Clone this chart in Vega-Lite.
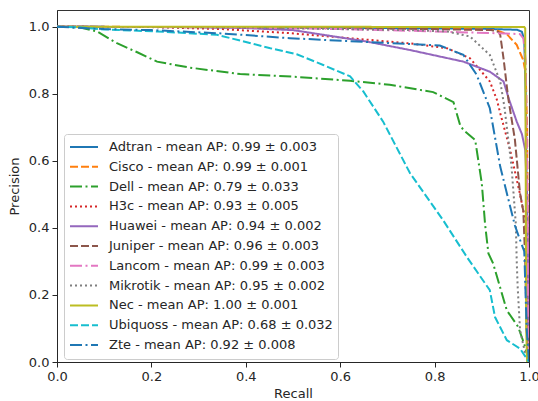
{
  "$schema": "https://vega.github.io/schema/vega-lite/v6.json",
  "width": 472,
  "height": 352,
  "autosize": {"type": "none"},
  "padding": {"left": 57, "top": 10, "right": 9, "bottom": 39},
  "background": "white",
  "config": {
    "font": "DejaVu Sans",
    "view": {"stroke": "#333333", "strokeWidth": 1},
    "axis": {
      "domainColor": "#262626", "tickColor": "#262626", "labelColor": "#262626", "titleColor": "#262626",
      "labelFontSize": 13, "titleFontSize": 13, "titleFontWeight": "normal", "tickSize": 5, "labelPadding": 3, "grid": false,
      "labelFont": "DejaVu Sans", "titleFont": "DejaVu Sans", "labelFlush": false
    }
  },
  "data": {"values": [
    {"series": "Adtran - mean AP: 0.99 ± 0.003", "recall": 0.0, "precision": 1.0},
    {"series": "Adtran - mean AP: 0.99 ± 0.003", "recall": 0.3, "precision": 0.999},
    {"series": "Adtran - mean AP: 0.99 ± 0.003", "recall": 0.6, "precision": 0.997},
    {"series": "Adtran - mean AP: 0.99 ± 0.003", "recall": 0.9, "precision": 0.994},
    {"series": "Adtran - mean AP: 0.99 ± 0.003", "recall": 0.975, "precision": 0.991},
    {"series": "Adtran - mean AP: 0.99 ± 0.003", "recall": 0.985, "precision": 0.985},
    {"series": "Adtran - mean AP: 0.99 ± 0.003", "recall": 0.99, "precision": 0.96},
    {"series": "Adtran - mean AP: 0.99 ± 0.003", "recall": 0.993, "precision": 0.8},
    {"series": "Adtran - mean AP: 0.99 ± 0.003", "recall": 0.995, "precision": 0.5},
    {"series": "Adtran - mean AP: 0.99 ± 0.003", "recall": 0.997, "precision": 0.2},
    {"series": "Adtran - mean AP: 0.99 ± 0.003", "recall": 1.0, "precision": 0.0},

    {"series": "Cisco - mean AP: 0.99 ± 0.001", "recall": 0.0, "precision": 1.0},
    {"series": "Cisco - mean AP: 0.99 ± 0.001", "recall": 0.4, "precision": 0.999},
    {"series": "Cisco - mean AP: 0.99 ± 0.001", "recall": 0.8, "precision": 0.997},
    {"series": "Cisco - mean AP: 0.99 ± 0.001", "recall": 0.93, "precision": 0.99},
    {"series": "Cisco - mean AP: 0.99 ± 0.001", "recall": 0.953, "precision": 0.978},
    {"series": "Cisco - mean AP: 0.99 ± 0.001", "recall": 0.974, "precision": 0.946},
    {"series": "Cisco - mean AP: 0.99 ± 0.001", "recall": 0.988, "precision": 0.9},
    {"series": "Cisco - mean AP: 0.99 ± 0.001", "recall": 0.993, "precision": 0.86},
    {"series": "Cisco - mean AP: 0.99 ± 0.001", "recall": 0.996, "precision": 0.7},
    {"series": "Cisco - mean AP: 0.99 ± 0.001", "recall": 0.998, "precision": 0.3},
    {"series": "Cisco - mean AP: 0.99 ± 0.001", "recall": 1.0, "precision": 0.0},

    {"series": "Dell - mean AP: 0.79 ± 0.033", "recall": 0.0, "precision": 1.0},
    {"series": "Dell - mean AP: 0.79 ± 0.033", "recall": 0.05, "precision": 0.998},
    {"series": "Dell - mean AP: 0.79 ± 0.033", "recall": 0.085, "precision": 0.986},
    {"series": "Dell - mean AP: 0.79 ± 0.033", "recall": 0.127, "precision": 0.951},
    {"series": "Dell - mean AP: 0.79 ± 0.033", "recall": 0.17, "precision": 0.924},
    {"series": "Dell - mean AP: 0.79 ± 0.033", "recall": 0.212, "precision": 0.896},
    {"series": "Dell - mean AP: 0.79 ± 0.033", "recall": 0.282, "precision": 0.878},
    {"series": "Dell - mean AP: 0.79 ± 0.033", "recall": 0.388, "precision": 0.859},
    {"series": "Dell - mean AP: 0.79 ± 0.033", "recall": 0.5, "precision": 0.851},
    {"series": "Dell - mean AP: 0.79 ± 0.033", "recall": 0.621, "precision": 0.839},
    {"series": "Dell - mean AP: 0.79 ± 0.033", "recall": 0.705, "precision": 0.827},
    {"series": "Dell - mean AP: 0.79 ± 0.033", "recall": 0.797, "precision": 0.805},
    {"series": "Dell - mean AP: 0.79 ± 0.033", "recall": 0.84, "precision": 0.775},
    {"series": "Dell - mean AP: 0.79 ± 0.033", "recall": 0.854, "precision": 0.707},
    {"series": "Dell - mean AP: 0.79 ± 0.033", "recall": 0.861, "precision": 0.692},
    {"series": "Dell - mean AP: 0.79 ± 0.033", "recall": 0.886, "precision": 0.662},
    {"series": "Dell - mean AP: 0.79 ± 0.033", "recall": 0.9, "precision": 0.533},
    {"series": "Dell - mean AP: 0.79 ± 0.033", "recall": 0.907, "precision": 0.41},
    {"series": "Dell - mean AP: 0.79 ± 0.033", "recall": 0.914, "precision": 0.324},
    {"series": "Dell - mean AP: 0.79 ± 0.033", "recall": 0.924, "precision": 0.294},
    {"series": "Dell - mean AP: 0.79 ± 0.033", "recall": 0.953, "precision": 0.154},
    {"series": "Dell - mean AP: 0.79 ± 0.033", "recall": 0.977, "precision": 0.105},
    {"series": "Dell - mean AP: 0.79 ± 0.033", "recall": 0.992, "precision": 0.045},
    {"series": "Dell - mean AP: 0.79 ± 0.033", "recall": 1.0, "precision": 0.0},

    {"series": "H3c - mean AP: 0.93 ± 0.005", "recall": 0.0, "precision": 1.0},
    {"series": "H3c - mean AP: 0.93 ± 0.005", "recall": 0.2, "precision": 0.999},
    {"series": "H3c - mean AP: 0.93 ± 0.005", "recall": 0.35, "precision": 0.993},
    {"series": "H3c - mean AP: 0.93 ± 0.005", "recall": 0.493, "precision": 0.981},
    {"series": "H3c - mean AP: 0.93 ± 0.005", "recall": 0.635, "precision": 0.964},
    {"series": "H3c - mean AP: 0.93 ± 0.005", "recall": 0.75, "precision": 0.95},
    {"series": "H3c - mean AP: 0.93 ± 0.005", "recall": 0.826, "precision": 0.936},
    {"series": "H3c - mean AP: 0.93 ± 0.005", "recall": 0.875, "precision": 0.906},
    {"series": "H3c - mean AP: 0.93 ± 0.005", "recall": 0.917, "precision": 0.837},
    {"series": "H3c - mean AP: 0.93 ± 0.005", "recall": 0.932, "precision": 0.782},
    {"series": "H3c - mean AP: 0.93 ± 0.005", "recall": 0.94, "precision": 0.737},
    {"series": "H3c - mean AP: 0.93 ± 0.005", "recall": 0.96, "precision": 0.633},
    {"series": "H3c - mean AP: 0.93 ± 0.005", "recall": 0.981, "precision": 0.5},
    {"series": "H3c - mean AP: 0.93 ± 0.005", "recall": 0.992, "precision": 0.423},
    {"series": "H3c - mean AP: 0.93 ± 0.005", "recall": 0.996, "precision": 0.3},
    {"series": "H3c - mean AP: 0.93 ± 0.005", "recall": 0.998, "precision": 0.1},
    {"series": "H3c - mean AP: 0.93 ± 0.005", "recall": 1.0, "precision": 0.0},

    {"series": "Huawei - mean AP: 0.94 ± 0.002", "recall": 0.0, "precision": 1.0},
    {"series": "Huawei - mean AP: 0.94 ± 0.002", "recall": 0.3, "precision": 0.999},
    {"series": "Huawei - mean AP: 0.94 ± 0.002", "recall": 0.4, "precision": 0.996},
    {"series": "Huawei - mean AP: 0.94 ± 0.002", "recall": 0.5, "precision": 0.99},
    {"series": "Huawei - mean AP: 0.94 ± 0.002", "recall": 0.656, "precision": 0.956},
    {"series": "Huawei - mean AP: 0.94 ± 0.002", "recall": 0.75, "precision": 0.93},
    {"series": "Huawei - mean AP: 0.94 ± 0.002", "recall": 0.861, "precision": 0.896},
    {"series": "Huawei - mean AP: 0.94 ± 0.002", "recall": 0.917, "precision": 0.866},
    {"series": "Huawei - mean AP: 0.94 ± 0.002", "recall": 0.946, "precision": 0.837},
    {"series": "Huawei - mean AP: 0.94 ± 0.002", "recall": 0.958, "precision": 0.782},
    {"series": "Huawei - mean AP: 0.94 ± 0.002", "recall": 0.974, "precision": 0.717},
    {"series": "Huawei - mean AP: 0.94 ± 0.002", "recall": 0.985, "precision": 0.68},
    {"series": "Huawei - mean AP: 0.94 ± 0.002", "recall": 0.992, "precision": 0.633},
    {"series": "Huawei - mean AP: 0.94 ± 0.002", "recall": 0.996, "precision": 0.5},
    {"series": "Huawei - mean AP: 0.94 ± 0.002", "recall": 0.998, "precision": 0.3},
    {"series": "Huawei - mean AP: 0.94 ± 0.002", "recall": 1.0, "precision": 0.0},

    {"series": "Juniper - mean AP: 0.96 ± 0.003", "recall": 0.0, "precision": 1.0},
    {"series": "Juniper - mean AP: 0.96 ± 0.003", "recall": 0.5, "precision": 0.998},
    {"series": "Juniper - mean AP: 0.96 ± 0.003", "recall": 0.8, "precision": 0.993},
    {"series": "Juniper - mean AP: 0.96 ± 0.003", "recall": 0.92, "precision": 0.99},
    {"series": "Juniper - mean AP: 0.96 ± 0.003", "recall": 0.935, "precision": 0.985},
    {"series": "Juniper - mean AP: 0.96 ± 0.003", "recall": 0.939, "precision": 0.976},
    {"series": "Juniper - mean AP: 0.96 ± 0.003", "recall": 0.946, "precision": 0.906},
    {"series": "Juniper - mean AP: 0.96 ± 0.003", "recall": 0.956, "precision": 0.787},
    {"series": "Juniper - mean AP: 0.96 ± 0.003", "recall": 0.97, "precision": 0.665},
    {"series": "Juniper - mean AP: 0.96 ± 0.003", "recall": 0.981, "precision": 0.503},
    {"series": "Juniper - mean AP: 0.96 ± 0.003", "recall": 0.988, "precision": 0.45},
    {"series": "Juniper - mean AP: 0.96 ± 0.003", "recall": 0.992, "precision": 0.3},
    {"series": "Juniper - mean AP: 0.96 ± 0.003", "recall": 0.995, "precision": 0.1},
    {"series": "Juniper - mean AP: 0.96 ± 0.003", "recall": 1.0, "precision": 0.0},

    {"series": "Lancom - mean AP: 0.99 ± 0.003", "recall": 0.0, "precision": 1.0},
    {"series": "Lancom - mean AP: 0.99 ± 0.003", "recall": 0.4, "precision": 0.998},
    {"series": "Lancom - mean AP: 0.99 ± 0.003", "recall": 0.6, "precision": 0.993},
    {"series": "Lancom - mean AP: 0.99 ± 0.003", "recall": 0.75, "precision": 0.988},
    {"series": "Lancom - mean AP: 0.99 ± 0.003", "recall": 0.85, "precision": 0.984},
    {"series": "Lancom - mean AP: 0.99 ± 0.003", "recall": 0.95, "precision": 0.98},
    {"series": "Lancom - mean AP: 0.99 ± 0.003", "recall": 0.981, "precision": 0.978},
    {"series": "Lancom - mean AP: 0.99 ± 0.003", "recall": 0.988, "precision": 0.965},
    {"series": "Lancom - mean AP: 0.99 ± 0.003", "recall": 0.993, "precision": 0.9},
    {"series": "Lancom - mean AP: 0.99 ± 0.003", "recall": 0.996, "precision": 0.6},
    {"series": "Lancom - mean AP: 0.99 ± 0.003", "recall": 0.998, "precision": 0.2},
    {"series": "Lancom - mean AP: 0.99 ± 0.003", "recall": 1.0, "precision": 0.0},

    {"series": "Mikrotik - mean AP: 0.95 ± 0.002", "recall": 0.0, "precision": 1.0},
    {"series": "Mikrotik - mean AP: 0.95 ± 0.002", "recall": 0.4, "precision": 0.998},
    {"series": "Mikrotik - mean AP: 0.95 ± 0.002", "recall": 0.6, "precision": 0.993},
    {"series": "Mikrotik - mean AP: 0.95 ± 0.002", "recall": 0.75, "precision": 0.99},
    {"series": "Mikrotik - mean AP: 0.95 ± 0.002", "recall": 0.826, "precision": 0.986},
    {"series": "Mikrotik - mean AP: 0.95 ± 0.002", "recall": 0.875, "precision": 0.971},
    {"series": "Mikrotik - mean AP: 0.95 ± 0.002", "recall": 0.917, "precision": 0.916},
    {"series": "Mikrotik - mean AP: 0.95 ± 0.002", "recall": 0.939, "precision": 0.837},
    {"series": "Mikrotik - mean AP: 0.95 ± 0.002", "recall": 0.948, "precision": 0.76},
    {"series": "Mikrotik - mean AP: 0.95 ± 0.002", "recall": 0.963, "precision": 0.583},
    {"series": "Mikrotik - mean AP: 0.95 ± 0.002", "recall": 0.972, "precision": 0.413},
    {"series": "Mikrotik - mean AP: 0.95 ± 0.002", "recall": 0.974, "precision": 0.3},
    {"series": "Mikrotik - mean AP: 0.95 ± 0.002", "recall": 0.976, "precision": 0.224},
    {"series": "Mikrotik - mean AP: 0.95 ± 0.002", "recall": 0.981, "precision": 0.095},
    {"series": "Mikrotik - mean AP: 0.95 ± 0.002", "recall": 0.992, "precision": 0.025},
    {"series": "Mikrotik - mean AP: 0.95 ± 0.002", "recall": 1.0, "precision": 0.0},

    {"series": "Nec - mean AP: 1.00 ± 0.001", "recall": 0.0, "precision": 1.0},
    {"series": "Nec - mean AP: 1.00 ± 0.001", "recall": 0.5, "precision": 1.0},
    {"series": "Nec - mean AP: 1.00 ± 0.001", "recall": 0.99, "precision": 0.999},
    {"series": "Nec - mean AP: 1.00 ± 0.001", "recall": 0.992, "precision": 0.995},
    {"series": "Nec - mean AP: 1.00 ± 0.001", "recall": 0.993, "precision": 0.6},
    {"series": "Nec - mean AP: 1.00 ± 0.001", "recall": 0.994, "precision": 0.1},
    {"series": "Nec - mean AP: 1.00 ± 0.001", "recall": 0.996, "precision": 0.0},

    {"series": "Ubiquoss - mean AP: 0.68 ± 0.032", "recall": 0.0, "precision": 1.0},
    {"series": "Ubiquoss - mean AP: 0.68 ± 0.032", "recall": 0.05, "precision": 0.998},
    {"series": "Ubiquoss - mean AP: 0.68 ± 0.032", "recall": 0.1, "precision": 0.992},
    {"series": "Ubiquoss - mean AP: 0.68 ± 0.032", "recall": 0.212, "precision": 0.986},
    {"series": "Ubiquoss - mean AP: 0.68 ± 0.032", "recall": 0.339, "precision": 0.976},
    {"series": "Ubiquoss - mean AP: 0.68 ± 0.032", "recall": 0.396, "precision": 0.956},
    {"series": "Ubiquoss - mean AP: 0.68 ± 0.032", "recall": 0.452, "precision": 0.936},
    {"series": "Ubiquoss - mean AP: 0.68 ± 0.032", "recall": 0.508, "precision": 0.918},
    {"series": "Ubiquoss - mean AP: 0.68 ± 0.032", "recall": 0.564, "precision": 0.886},
    {"series": "Ubiquoss - mean AP: 0.68 ± 0.032", "recall": 0.621, "precision": 0.852},
    {"series": "Ubiquoss - mean AP: 0.68 ± 0.032", "recall": 0.649, "precision": 0.807},
    {"series": "Ubiquoss - mean AP: 0.68 ± 0.032", "recall": 0.691, "precision": 0.717},
    {"series": "Ubiquoss - mean AP: 0.68 ± 0.032", "recall": 0.748, "precision": 0.563},
    {"series": "Ubiquoss - mean AP: 0.68 ± 0.032", "recall": 0.818, "precision": 0.423},
    {"series": "Ubiquoss - mean AP: 0.68 ± 0.032", "recall": 0.868, "precision": 0.314},
    {"series": "Ubiquoss - mean AP: 0.68 ± 0.032", "recall": 0.917, "precision": 0.214},
    {"series": "Ubiquoss - mean AP: 0.68 ± 0.032", "recall": 0.928, "precision": 0.134},
    {"series": "Ubiquoss - mean AP: 0.68 ± 0.032", "recall": 0.953, "precision": 0.065},
    {"series": "Ubiquoss - mean AP: 0.68 ± 0.032", "recall": 0.981, "precision": 0.04},
    {"series": "Ubiquoss - mean AP: 0.68 ± 0.032", "recall": 1.0, "precision": 0.0},

    {"series": "Zte - mean AP: 0.92 ± 0.008", "recall": 0.0, "precision": 1.0},
    {"series": "Zte - mean AP: 0.92 ± 0.008", "recall": 0.1, "precision": 0.993},
    {"series": "Zte - mean AP: 0.92 ± 0.008", "recall": 0.2, "precision": 0.99},
    {"series": "Zte - mean AP: 0.92 ± 0.008", "recall": 0.35, "precision": 0.98},
    {"series": "Zte - mean AP: 0.92 ± 0.008", "recall": 0.493, "precision": 0.966},
    {"series": "Zte - mean AP: 0.92 ± 0.008", "recall": 0.635, "precision": 0.956},
    {"series": "Zte - mean AP: 0.92 ± 0.008", "recall": 0.811, "precision": 0.944},
    {"series": "Zte - mean AP: 0.92 ± 0.008", "recall": 0.861, "precision": 0.916},
    {"series": "Zte - mean AP: 0.92 ± 0.008", "recall": 0.889, "precision": 0.857},
    {"series": "Zte - mean AP: 0.92 ± 0.008", "recall": 0.91, "precision": 0.782},
    {"series": "Zte - mean AP: 0.92 ± 0.008", "recall": 0.917, "precision": 0.757},
    {"series": "Zte - mean AP: 0.92 ± 0.008", "recall": 0.939, "precision": 0.583},
    {"series": "Zte - mean AP: 0.92 ± 0.008", "recall": 0.97, "precision": 0.408},
    {"series": "Zte - mean AP: 0.92 ± 0.008", "recall": 0.981, "precision": 0.364},
    {"series": "Zte - mean AP: 0.92 ± 0.008", "recall": 0.99, "precision": 0.33},
    {"series": "Zte - mean AP: 0.92 ± 0.008", "recall": 0.995, "precision": 0.1},
    {"series": "Zte - mean AP: 0.92 ± 0.008", "recall": 1.0, "precision": 0.0}
  ]},
  "mark": {"type": "line", "strokeWidth": 2, "clip": true},
  "encoding": {
    "x": {
      "field": "recall", "type": "quantitative",
      "scale": {"domain": [0, 1], "nice": false, "zero": false},
      "axis": {"title": "Recall", "values": [0, 0.2, 0.4, 0.6, 0.8, 1.0], "format": ".1f", "titlePadding": 4, "labelFlush": false}
    },
    "y": {
      "field": "precision", "type": "quantitative",
      "scale": {"domain": [0, 1.05], "nice": false, "zero": false},
      "axis": {"title": "Precision", "values": [0, 0.2, 0.4, 0.6, 0.8, 1.0], "format": ".1f", "titlePadding": 7, "labelFlush": false}
    },
    "color": {
      "field": "series", "type": "nominal",
      "scale": {
        "domain": ["Adtran - mean AP: 0.99 ± 0.003", "Cisco - mean AP: 0.99 ± 0.001", "Dell - mean AP: 0.79 ± 0.033", "H3c - mean AP: 0.93 ± 0.005", "Huawei - mean AP: 0.94 ± 0.002", "Juniper - mean AP: 0.96 ± 0.003", "Lancom - mean AP: 0.99 ± 0.003", "Mikrotik - mean AP: 0.95 ± 0.002", "Nec - mean AP: 1.00 ± 0.001", "Ubiquoss - mean AP: 0.68 ± 0.032", "Zte - mean AP: 0.92 ± 0.008"],
        "range": ["#1f77b4", "#ff7f0e", "#2ca02c", "#d62728", "#9467bd", "#8c564b", "#e377c2", "#7f7f7f", "#bcbd22", "#17becf", "#1f77b4"]
      },
      "legend": {
        "title": null, "orient": "none", "legendX": 7, "legendY": 124,
        "symbolType": "stroke", "symbolSize": 784, "symbolStrokeWidth": 2, "clipHeight": 16,
        "labelFontSize": 13, "labelFont": "DejaVu Sans", "labelColor": "#262626", "labelLimit": 0, "labelOffset": 10,
        "padding": 5, "fillColor": "rgba(255,255,255,0.8)", "strokeColor": "#cccccc", "cornerRadius": 3, "rowPadding": 3.8
      }
    },
    "strokeDash": {
      "field": "series", "type": "nominal",
      "scale": {
        "domain": ["Adtran - mean AP: 0.99 ± 0.003", "Cisco - mean AP: 0.99 ± 0.001", "Dell - mean AP: 0.79 ± 0.033", "H3c - mean AP: 0.93 ± 0.005", "Huawei - mean AP: 0.94 ± 0.002", "Juniper - mean AP: 0.96 ± 0.003", "Lancom - mean AP: 0.99 ± 0.003", "Mikrotik - mean AP: 0.95 ± 0.002", "Nec - mean AP: 1.00 ± 0.001", "Ubiquoss - mean AP: 0.68 ± 0.032", "Zte - mean AP: 0.92 ± 0.008"],
        "range": [[1, 0], [8, 3], [12, 3.5, 2, 3.5], [2, 3], [1, 0], [8, 3], [12, 3.5, 2, 3.5], [2, 3], [1, 0], [8, 3], [12, 3.5, 2, 3.5]]
      },
      "legend": {
        "title": null, "orient": "none", "legendX": 7, "legendY": 124,
        "symbolType": "stroke", "symbolSize": 784, "symbolStrokeWidth": 2, "clipHeight": 16,
        "labelFontSize": 13, "labelFont": "DejaVu Sans", "labelColor": "#262626", "labelLimit": 0, "labelOffset": 10,
        "padding": 5, "fillColor": "rgba(255,255,255,0.8)", "strokeColor": "#cccccc", "cornerRadius": 3, "rowPadding": 3.8
      }
    }
  }
}
